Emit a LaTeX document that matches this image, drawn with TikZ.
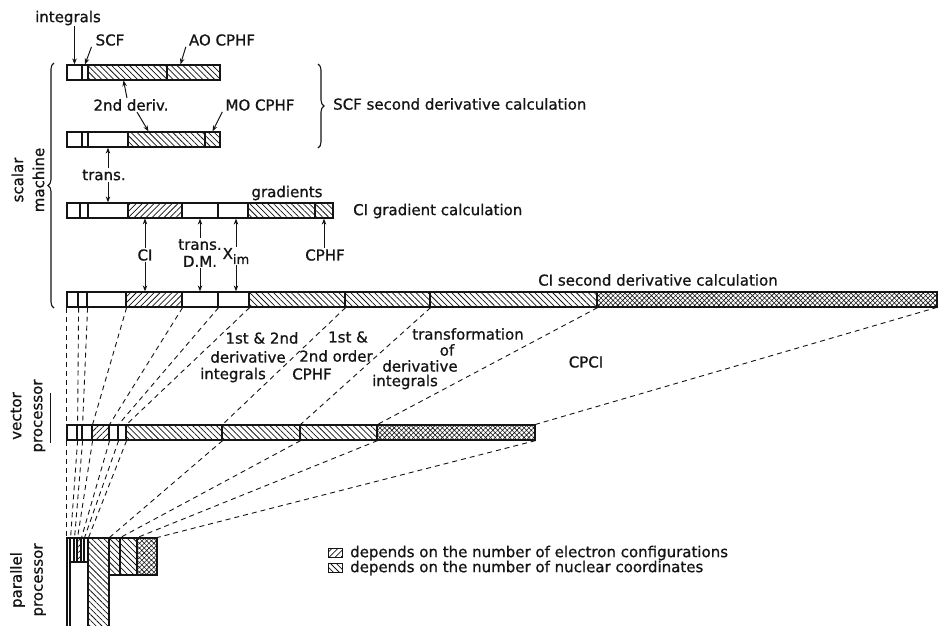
\documentclass[tikz,border=0pt]{standalone}
\usepackage{fontspec}
\setmainfont{DejaVu Sans}
\newfontfamily\lettering{DejaVu Sans}[FakeBold=0.9]
\usetikzlibrary{arrows.meta,calc,patterns.meta,decorations.pathreplacing}
\definecolor{vink}{HTML}{141414}
\tikzset{
  seg/.style={draw=vink,line width=1.2pt,inner sep=0pt,minimum height=15pt},
  clr/.style={fill=white},
  elec/.style={pattern={Lines[angle=45,distance=4.2pt,line width=0.75pt]},pattern color=vink},
  nucl/.style={pattern={Lines[angle=-45,distance=4.2pt,line width=0.75pt]},pattern color=vink},
  both/.style={pattern={Hatch[angle=45,distance=3.4pt,line width=0.6pt]},pattern color=vink},
  lbl/.style={font=\lettering\fontsize{15}{17}\selectfont,text=vink,inner sep=1pt,align=center},
  rlbl/.style={lbl,rotate=90,font=\lettering\fontsize{15}{21}\selectfont},
  arr/.style={-{Stealth[length=6pt,width=4.5pt]},line width=1pt,draw=vink},
  dln/.style={dash pattern=on 5pt off 4pt,line width=0.9pt,draw=vink},
  brc/.style={decorate,decoration={brace,amplitude=6pt},line width=1.1pt,draw=vink},
}
\begin{document}
\begin{tikzpicture}[x=1pt,y=-1pt]
  \useasboundingbox (0,0) rectangle (938,625);
  % scalar machine
  \foreach \a/\b/\k [count=\i] in {67/82/clr,82/88/clr,88/167/nucl,167/220/nucl}
    \node[seg,\k,minimum width=\b pt-\a pt] (r1s\i) at ({(\a+\b)/2},72.5) {};
  \foreach \a/\b/\k [count=\i] in {67/82/clr,82/88/clr,88/128/clr,128/205/nucl,205/220/nucl}
    \node[seg,\k,minimum width=\b pt-\a pt] (r2s\i) at ({(\a+\b)/2},139.5) {};
  \foreach \a/\b/\k [count=\i] in {67/80/clr,80/88/clr,88/128/clr,128/182/elec,182/218/clr,218/248/clr,248/315/nucl,315/333/nucl}
    \node[seg,\k,minimum width=\b pt-\a pt] (r3s\i) at ({(\a+\b)/2},210.5) {};
  \foreach \a/\b/\k [count=\i] in {67/78/clr,78/87/clr,87/126/clr,126/182/elec,182/218/clr,218/249/clr,249/345/nucl,345/430/nucl,430/597/nucl,597/937/both}
    \node[seg,\k,minimum width=\b pt-\a pt] (r4s\i) at ({(\a+\b)/2},299.5) {};
  % vector processor
  \foreach \a/\b/\k [count=\i] in {67/77/clr,77/82/clr,82/92/clr,92/109/elec,109/118/clr,118/126/clr,126/222/nucl,222/300/nucl,300/377/nucl,377/535/both}
    \node[seg,\k,minimum width=\b pt-\a pt] (v\i) at ({(\a+\b)/2},432.5) {};
  % parallel processor
  \node[seg,clr,minimum width=18pt,minimum height=65pt] (pcol) at (79,594.5) {};
  \foreach \a/\b/\h/\k [count=\i] in {67/70/89/clr,70/74/24/clr,74/77/24/clr,77/81/24/elec,81/84/24/clr,84/88/24/clr,88/109/89/nucl,109/120/37/nucl,120/137/37/nucl,137/157/37/both}
    \node[seg,\k,minimum width=\b pt-\a pt,minimum height=\h pt] (p\i) at ({(\a+\b)/2},{538+\h/2}) {};

  % dashed mappings
  \draw[dln] (r4s1.south west) -- (v1.north west);
  \draw[dln] (v1.south west) -- (p1.north west);
  \foreach \i in {1,...,10} {
    \draw[dln] (r4s\i.south east) -- (v\i.north east);
    \draw[dln] (v\i.south east) -- (p\i.north east);
  }

  % braces and side labels
  \coordinate (lbt) at (54,63);
  \coordinate (lbb) at (54,308);
  \draw[brc] (lbb) -- (lbt);
  \coordinate (rbt) at (318,64);
  \coordinate (rbb) at (318,148);
  \draw[brc] (rbt) -- (rbb);
  \node[rlbl] (lscal) at (28,180) {scalar\\machine};
  \node[rlbl] (lvec) at (28,416) {vector\\processor};
  \node[rlbl] (lpar) at (28,580) {parallel\\processor};
  \draw[line width=0.9pt,draw=vink] (50,393) -- (50,443);

  % labels of the scalar rows
  \node[lbl] (lint) at (68,18) {integrals};
  \node[lbl] (lscf) at (110,40) {SCF};
  \node[lbl] (lao) at (222,40) {AO CPHF};
  \node[lbl] (lsd) at (131,105) {2nd deriv.};
  \node[lbl] (lmo) at (260,105) {MO CPHF};
  \node[lbl,anchor=west] (lscfc) at (332,104) {SCF second derivative calculation};
  \node[lbl] (ltr) at (104,175) {trans.};
  \node[lbl] (lgrad) at (287,193) {gradients};
  \node[lbl,anchor=west] (lcig) at (352,211) {CI gradient calculation};
  \node[lbl] (lci) at (145,255) {CI};
  \node[lbl] (ltdm) at (200,253) {trans.\\D.M.};
  \node[lbl] (lxim) at (236,256) {X\raisebox{-5pt}{\fontsize{13}{13}\selectfont im}};
  \node[lbl] (lcph) at (325,255) {CPHF};
  \node[lbl] (lcisd) at (658,280) {CI second derivative calculation};

  \draw[arr] (lint.south -| r1s1) -- (r1s1.north);
  \draw[arr] ([xshift=-3pt]lscf.south west) -- (r1s2.north);
  \draw[arr] ([xshift=-2pt]lao.south west) -- ([xshift=-13pt]r1s4.north);
  \draw[arr] ([xshift=-4pt]lsd.north) -- ([xshift=-4pt]r1s3.south);
  \draw[arr] ([xshift=6pt]lsd.south) -- ([xshift=-18pt]r2s4.north);
  \draw[arr] ([xshift=-2pt]lmo.south west) -- (r2s5.north);
  \draw[arr] (ltr.north -| r2s3) -- (r2s3.south);
  \draw[arr] (ltr.south -| r3s3) -- (r3s3.north);
  \draw[arr] (lci.north) -- (lci.north |- r3s4.south);
  \draw[arr] (lci.south) -- (lci.south |- r4s4.north);
  \draw[arr] (ltdm.north) -- (ltdm.north |- r3s5.south);
  \draw[arr] (ltdm.south) -- (ltdm.south |- r4s5.north);
  \draw[arr] (lxim.north) -- (lxim.north |- r3s6.south);
  \draw[arr] (lxim.south) -- (lxim.south |- r4s6.north);
  \draw[arr] (lcph.north -| r3s8) -- (r3s8.south);

  % labels between the fans
  \node[lbl] (lb1a) at (262,338) {1st \& 2nd};
  \node[lbl] (lb1b) at (248,357) {derivative};
  \node[lbl] (lb1c) at (233,375) {integrals};
  \node[lbl] (lb2a) at (348,337) {1st \&};
  \node[lbl] (lb2b) at (336,356) {2nd order};
  \node[lbl] (lb2c) at (312,374) {CPHF};
  \node[lbl] (lb3a) at (468,334) {transformation};
  \node[lbl] (lb3b) at (447,350) {of};
  \node[lbl] (lb3c) at (420,366) {derivative};
  \node[lbl] (lb3d) at (405,382) {integrals};
  \node[lbl] (lcpci) at (586,362) {CPCI};

  % legend
  \node[seg,elec,line width=0.8pt,minimum width=14pt,minimum height=9pt] (lg1) at (335,552.5) {};
  \node[seg,nucl,line width=0.8pt,minimum width=14pt,minimum height=9pt] (lg2) at (335,567.5) {};
  \node[lbl,anchor=west] (lgt1) at (349,553) {depends on the number of electron configurations};
  \node[lbl,anchor=west] (lgt2) at (349,568) {depends on the number of nuclear coordinates};
\end{tikzpicture}
\end{document}
